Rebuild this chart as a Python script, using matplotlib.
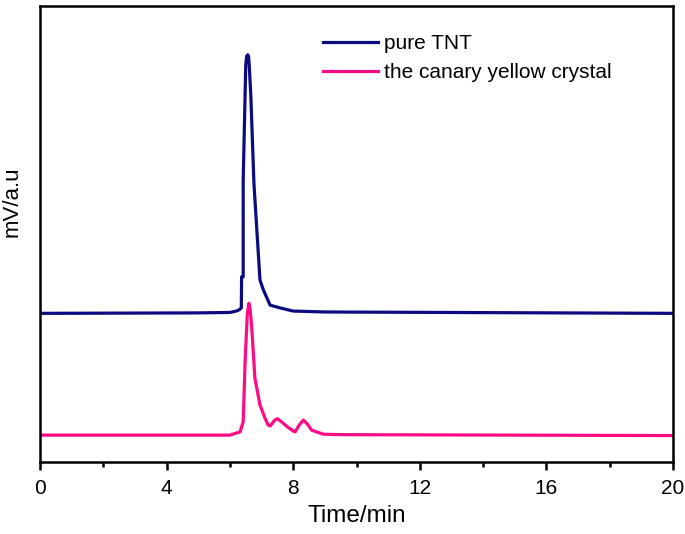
import matplotlib.pyplot as plt
from matplotlib.ticker import MultipleLocator

plt.rcParams['font.family'] = ['Liberation Sans', 'DejaVu Sans']

# chromatogram (time in min, signal in arbitrary units)
tnt_t = [0, 5.0, 6.0, 6.2, 6.30, 6.36, 6.37, 6.42, 6.42, 6.48, 6.50, 6.53, 6.56, 6.59, 6.61,
         6.66, 6.76, 6.95, 7.06, 7.27, 7.58, 8.0, 9.0, 20]
tnt_y = [32.6, 32.7, 32.8, 33.1, 33.4, 33.8, 40.6, 40.6, 61.8, 80.5, 87.0, 89.0, 89.3, 89.0, 87.0,
         80.5, 61.0, 39.9, 37.7, 34.4, 33.8, 33.1, 32.9, 32.6]

crystal_t = [0, 5.69, 6.0, 6.32, 6.42, 6.48, 6.55, 6.60, 6.64, 6.69, 6.79, 6.95, 7.11, 7.21,
             7.27, 7.42, 7.5, 7.6, 7.8, 8.0, 8.06, 8.18, 8.32, 8.45, 8.58, 8.95, 9.5, 20]
crystal_y = [5.9, 5.9, 5.9, 6.6, 8.8, 22.0, 32.5, 34.8, 33.5, 29.4, 18.4, 12.5, 9.6, 8.1,
             7.9, 9.2, 9.5, 9.0, 7.8, 6.8, 6.6, 8.0, 9.2, 8.3, 7.0, 6.1, 6.0, 5.8]

labels = ['pure TNT', 'the canary yellow crystal']

fig = plt.figure(figsize=(6.85, 5.34), dpi=100)
ax = fig.add_axes([0.0584, 0.1348, 0.9241, 0.854])

ax.plot(tnt_t, tnt_y, color='#0b0b80', lw=2.3, label=labels[0])
ax.plot(crystal_t, crystal_y, color='#ff0a85', lw=2.3, label=labels[1])

ax.set_xlim(0, 20)
ax.set_ylim(0, 100)
ax.xaxis.set_major_locator(MultipleLocator(4))
ax.xaxis.set_minor_locator(MultipleLocator(2))
ax.set_yticks([])
ax.tick_params(axis='x', which='major', direction='out', length=6, width=1.8,
               labelsize=15, pad=6)
ax.tick_params(axis='x', which='minor', direction='out', length=3.5, width=1.8)
for s in ax.spines.values():
    s.set_linewidth(1.8)

ax.set_xlabel('Time/min', fontsize=17.5, labelpad=5)
ax.set_ylabel('mV/a.u', fontsize=16)
ax.yaxis.set_label_coords(-0.027, 0.570)

ax.legend(loc='upper left', bbox_to_anchor=(0.418, 0.98), frameon=False, fontsize=15,
          handlelength=2.6, handletextpad=0.3, labelspacing=0.5)

fig.savefig('out.png', dpi=100)
